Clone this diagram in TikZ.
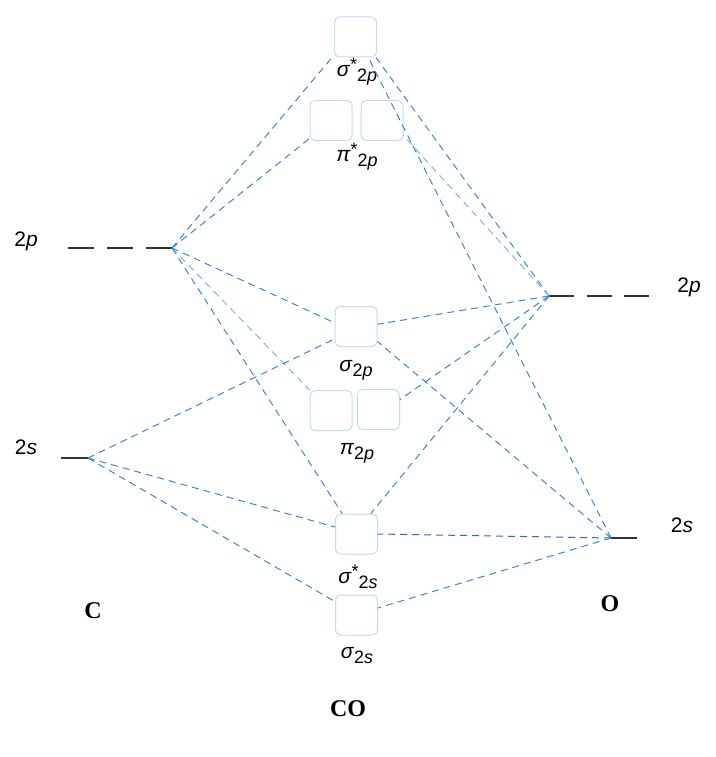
\documentclass[tikz,border=0pt]{standalone}
\usepackage{fontspec}
\setmainfont{Liberation Sans}
\newfontfamily\bserif{Liberation Serif}
\begin{document}
\begin{tikzpicture}[x=1pt,y=-1pt,
  orbbox/.style={draw=boxblue,line width=1pt,rounded corners=5pt,minimum width=42pt,minimum height=40pt,inner sep=0pt},
  conn/.style={draw=lineblue,line width=1pt,dash pattern=on 7pt off 5pt},
  connlight/.style={draw=lightblue,line width=1pt,dash pattern=on 7pt off 5pt},
  conndark/.style={draw=darkblue,line width=1pt,dash pattern=on 7pt off 5pt},
  level/.style={draw=black!80,line width=1.3pt},
  lab/.style={inner sep=0pt,font=\fontsize{21}{23}\selectfont},
  atom/.style={inner sep=0pt,font=\bserif\bfseries\fontsize{24}{26}\selectfont}]
\definecolor{boxblue}{HTML}{C2DAF4}
\definecolor{lineblue}{HTML}{3A86D6}
\definecolor{lightblue}{HTML}{82B4EA}
\definecolor{darkblue}{HTML}{2A6CB8}
\newcommand\subl[1]{\raisebox{-5pt}{\fontsize{18}{18}\selectfont #1}}
\newcommand\supl{\raisebox{6pt}{\fontsize{18}{18}\selectfont *}}
\useasboundingbox (0,0) rectangle (715,757);
% orbitals
\node[orbbox] (sg2ps) at (355.5,37) {};
\node[orbbox] (pi2psL) at (331,120.5) {};
\node[orbbox] (pi2psR) at (382,120.5) {};
\node[orbbox] (sg2p) at (356,326.5) {};
\node[orbbox] (pi2pL) at (331,410.5) {};
\node[orbbox] (pi2pR) at (378.5,409.5) {};
\node[orbbox] (sg2ss) at (356.5,534) {};
\node[orbbox] (sg2s) at (356.5,615) {};
% orbital labels
\node[lab] (lsg2ps) at (357,72) {\textit{σ}\supl\subl{2\textit{p}}};
\node[lab] (lpi2ps) at (357,157) {\textit{π}\supl\subl{2\textit{p}}};
\node[lab] (lsg2p) at (356,370) {\textit{σ}\subl{2\textit{p}}};
\node[lab] (lpi2p) at (357,453) {\textit{π}\subl{2\textit{p}}};
\node[lab] (lsg2ss) at (358,577) {\textit{σ}\supl\subl{2\textit{s}}};
\node[lab] (lsg2s) at (357,656) {\textit{σ}\subl{2\textit{s}}};
% atomic levels
\coordinate (c2p) at (172,248);
\coordinate (c2pstart) at (68,248);
\coordinate (c2s) at (88,458);
\coordinate (c2sstart) at (61,458);
\coordinate (o2p) at (549,296);
\coordinate (o2pend) at (650,296);
\coordinate (o2s) at (611,538);
\coordinate (o2send) at (637,538);
\draw[level,dash pattern=on 26pt off 13pt] (c2pstart) -- (c2p);
\draw[level] (c2sstart) -- (c2s);
\draw[level,dash pattern=on 25pt off 12.5pt] (o2p) -- (o2pend);
\draw[level] (o2s) -- (o2send);
\node[lab] (lc2p) at (26,241) {2\textit{p}};
\node[lab] (lc2s) at (26,447) {2\textit{s}};
\node[lab] (lo2p) at (689,287) {2\textit{p}};
\node[lab] (lo2s) at (682,525) {2\textit{s}};
\node[atom] (C) at (93,611) {C};
\node[atom] (O) at (610,604) {O};
\node[atom] (CO) at (348,709) {CO};
% connectors from C 2p
\draw[conn] (c2p) -- (sg2ps.-140);
\draw[conn] (c2p) -- (pi2psL.-140);
\draw[conn] (c2p) -- (sg2p.170);
\draw[connlight] (c2p) -- (pi2pL.north west);
\draw[conn] (c2p) -- (sg2ss.125);
% connectors from C 2s
\draw[conn] (c2s) -- (sg2p.210);
\draw[conn] (c2s) -- (sg2ss.162);
\draw[conn] (c2s) -- (sg2s.148);
% connectors from O 2p
\draw[conn] (o2p) -- (sg2ps.-45);
\draw[connlight] (o2p) -- (pi2psR.-35);
\draw[conn] (o2p) -- (sg2p.6);
\draw[conn] (o2p) -- (pi2pR.25);
\draw[conn] (o2p) -- (sg2ss.55);
% connectors from O 2s
\draw[conn] (o2s) -- (sg2ps.-58);
\draw[conn] (o2s) -- (sg2p.-35);
\draw[conndark] (o2s) -- (sg2ss.east);
\draw[conn] (o2s) -- (sg2s.18);
\end{tikzpicture}
\end{document}
